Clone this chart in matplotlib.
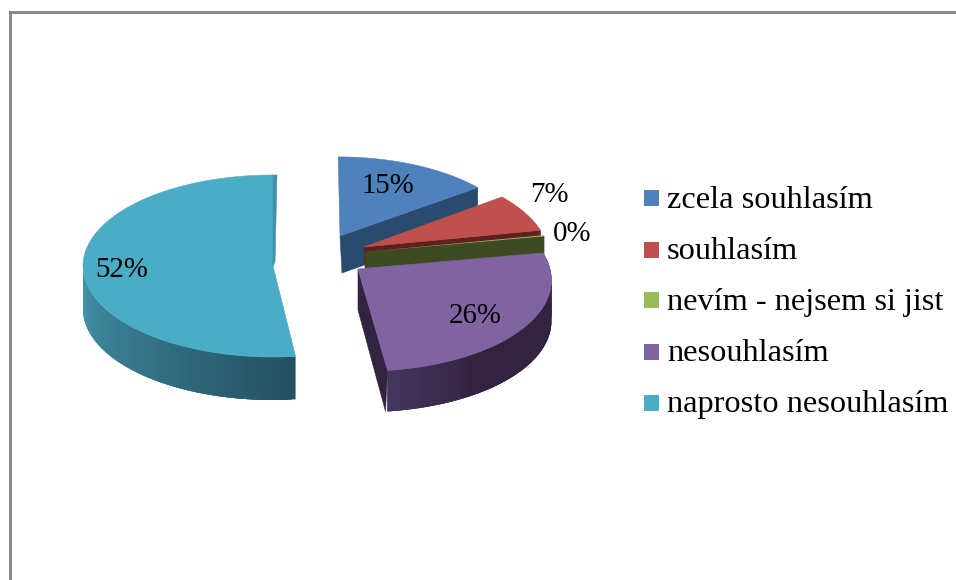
import numpy as np
import matplotlib
matplotlib.use("Agg")
import matplotlib.pyplot as plt
from matplotlib.colors import to_rgb
from matplotlib.patches import Polygon, Rectangle

# Survey answers
categories = ["zcela souhlasím", "souhlasím", "nevím - nejsem si jist", "nesouhlasím", "naprosto nesouhlasím"]
values = [15, 7, 0.2, 26, 52]

top_colors = ["#4f81bd", "#c0504d", "#9bbb59", "#8064a2", "#4bacc6"]
side_colors = ["#2a4a6e", "#5e2120", "#3e4a22", "#322440", "#24505f"]
rim_light = [None, None, None, "#46375f", "#4596ae"]

# Layout of each exploded slice, in pixels: tip x, tip y, radius x, radius y, perspective, depth
slices = [
    (340, 236, 182, 87, 0.10, 37),
    (364, 247, 184, 90, 0.10, 38),
    (365, 252, 186, 90, 0.10, 38),
    (358, 269, 192, 92, 0.10, 41),
    (273, 266, 190, 91, 0.00, 43),
]
label_pos = [(388, 193), (549, 202), (572, 241), (475, 323), (122, 277)]
legend_y = [198, 249.5, 300, 351.5, 402.5]
legend_base = [208, 259, 310, 361, 412]
VANISH_X = 320

fig = plt.figure(figsize=(9.56, 5.8), dpi=100)
ax = fig.add_axes([0, 0, 1, 1])
ax.set_xlim(0, 956)
ax.set_ylim(580, 0)
ax.axis("off")

# Frame (right and bottom side are cut off in the picture)
ax.plot([10.5, 10.5, 956], [580, 11.5, 11.5], color="#8a8a8a", lw=2.2, solid_joinstyle="miter")


def project(layout, theta):
    tx, ty, rx, ry, k, depth = layout
    x = np.sin(theta)
    y = np.cos(theta)
    s = 1 / (1 + k * y)
    return VANISH_X + (tx - VANISH_X + rx * x) * s, ty - ry * y * s


def fill(pts, color, z, lw=0.4):
    ax.add_patch(Polygon(pts, closed=True, facecolor=color, edgecolor=color if lw else "none", lw=lw, zorder=z))


# Slices run clockwise from the top
edges = np.cumsum([0] + values) / sum(values) * 2 * np.pi
for i in [0, 1, 2, 4, 3]:
    layout = slices[i]
    tx, ty, depth = layout[0], layout[1], layout[5]
    a0, a1 = edges[i], edges[i + 1]
    z = 2 + [0, 1, 2, 4, 3].index(i) * 3

    # cut face at the end of the slice that looks to the viewer
    if i < 3:
        ex, ey = project(layout, a1)
        fill([(tx, ty), (ex, ey), (ex, ey + depth), (tx + 2, ty + depth)], side_colors[i], z)
    if i == 3:
        ex, ey = project(layout, a1)
        fill([(tx, ty), (ex, ey), (ex - 2, ey + depth), (tx, ty + depth)], side_colors[i], z)

    # outer rim, shaded step by step; each step overlaps the next so no seams show
    if rim_light[i] is not None:
        lo = max(a0, np.pi / 2 - 0.15)
        hi = min(a1, 1.5 * np.pi)
        steps = np.linspace(lo, hi, 80)
        dark = np.array(to_rgb(side_colors[i]))
        light = np.array(to_rgb(rim_light[i]))
        for j in range(len(steps) - 1):
            if i == 4:
                t = (steps[j] - lo) / (hi - lo)
            else:
                t = max(0, 1 - (hi - steps[j]) / 0.45)
            col = tuple(dark + (light - dark) * t)
            end = steps[min(j + 3, len(steps) - 1)]
            arc = np.linspace(steps[j], end, 4)
            xa, ya = project(layout, arc)
            pts = list(zip(xa, ya)) + list(zip(xa[::-1], ya[::-1] + depth))
            fill(pts, col, z + 1, lw=0)

    # top surface
    thetas = np.linspace(a0, a1, 120)
    xs, ys = project(layout, thetas)
    fill([(tx, ty)] + list(zip(xs, ys)), top_colors[i], z + 2, lw=0 if i == 2 else 0.4)

    # thin sliver of the back cut on the big slice
    if i == 4:
        bx, by = project(layout, a1)
        fill([(bx, by), (bx + 4, by), (tx + 2, ty - 4), (tx, ty)], "#3f90a8", z + 2)

# Percent labels
for v, (lx, ly) in zip(values, label_pos):
    ax.text(lx, ly, f"{round(v)}%", family="Liberation Serif", fontsize=20.8,
            ha="center", va="baseline", color="black", zorder=30)

# Legend
for name, c, y, base in zip(categories, top_colors, legend_y, legend_base):
    ax.add_patch(Rectangle((644, y - 8), 15.5, 16, facecolor=c, edgecolor="none", zorder=30))
    ax.text(667, base, name, family="Liberation Serif", fontsize=23.3,
            ha="left", va="baseline", color="black", zorder=30)

fig.savefig("out.png", dpi=100)
